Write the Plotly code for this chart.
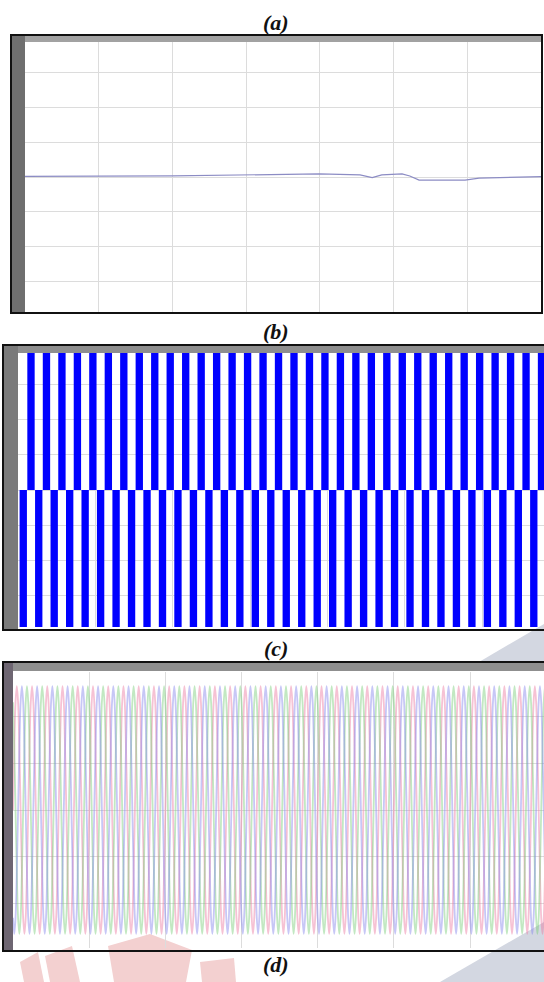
import plotly.graph_objects as go

W, H = 544, 982

# ---------------- data ----------------
# (a) slowly varying quantity (time in s, value in plot units)
a_time = [0.0, 0.20, 0.399, 0.4545, 0.471, 0.484, 0.5115, 0.522, 0.5346, 0.597, 0.616, 0.6445, 0.70]
a_value = [2, 3, 9, 6, -2, 6, 9, 3, -9, -9, -3, -1, 1]

# (b) bipolar square wave: level of each half-cycle
b_half_period = 0.01
b_first_center = 0.0068
b_pattern = [-400, 400]
b_cycles = 34

# (c) three-phase voltages: one cycle, per-unit
c_cycle_shape = [0.0, 0.5, 0.87, 1.0, 0.87, 0.5, 0.0, -0.5, -0.87, -1.0, -0.87, -0.5]
c_amplitude = 265
c_period = 0.02
c_cycles = 35
c_phase_shift_samples = [0, 4, 8]
c_colors = ["rgba(235,120,160,0.45)", "rgba(120,205,120,0.45)", "rgba(130,130,235,0.45)"]

# ---------------- build series ----------------
b_levels = b_pattern * b_cycles
b_time = [b_first_center + b_half_period * i for i in range(len(b_levels))]

n = len(c_cycle_shape)
c_time = [c_period * k / n for k in range(n * c_cycles + 1)]
c_series = []
for s in c_phase_shift_samples:
    vals = [c_amplitude * c_cycle_shape[(k + s) % n] for k in range(len(c_time))]
    c_series.append(vals)


def px(x):
    return x / W


def py(y):
    return 1 - y / H


fig = go.Figure()

fig.add_trace(go.Scatter(x=a_time, y=a_value, mode="lines",
                         line=dict(color="#8c8cc4", width=1.2),
                         xaxis="x", yaxis="y", hoverinfo="skip"))

fig.add_trace(go.Bar(x=b_time, y=b_levels, width=0.0095,
                     marker=dict(color="#0000ff", line=dict(width=0)),
                     xaxis="x2", yaxis="y2", hoverinfo="skip"))

for vals, col in zip(c_series, c_colors):
    fig.add_trace(go.Scatter(x=c_time, y=vals, mode="lines",
                             line=dict(color=col, width=1.8, shape="spline"),
                             xaxis="x3", yaxis="y3", hoverinfo="skip"))

grid = "#dcdcdc"
common_x = dict(showticklabels=False, showgrid=True, gridcolor=grid, gridwidth=1,
                zeroline=False, ticks="", showline=False, fixedrange=True)
common_y = dict(showticklabels=False, showgrid=True, gridcolor=grid, gridwidth=1,
                zeroline=False, ticks="outside", ticklen=5, tickcolor="#444",
                showline=False, fixedrange=True)

fig.update_layout(
    width=W, height=H,
    margin=dict(l=0, r=0, t=0, b=0),
    paper_bgcolor="white", plot_bgcolor="white",
    showlegend=False, barmode="overlay",
    xaxis=dict(domain=[px(25), px(541)], range=[0, 0.70], dtick=0.1, anchor="y", **common_x),
    yaxis=dict(domain=[py(312), py(42)], range=[-386, 386], dtick=100, anchor="x", **common_y),
    xaxis2=dict(domain=[px(18), 1], range=[0, 0.68], dtick=0.1, anchor="y2", **common_x),
    yaxis2=dict(domain=[py(627), py(353)], range=[-391, 391], dtick=100, anchor="x2", **common_y),
    xaxis3=dict(domain=[px(13), 1], range=[0, 0.697], dtick=0.1, anchor="y3", **common_x),
    yaxis3=dict(domain=[py(948), py(672)], range=[-295, 295], dtick=100, anchor="x3", **common_y),
)

shapes = []


def rect(x0, y0, x1, y1, fill=None, line_color=None, lw=0, layer="above"):
    d = dict(type="rect", xref="paper", yref="paper",
             x0=px(x0), x1=px(x1), y0=py(y1), y1=py(y0), layer=layer,
             line=dict(width=lw, color=line_color or "rgba(0,0,0,0)"))
    if fill:
        d["fillcolor"] = fill
    return d


def poly(points, fill, layer="below", opacity=1.0):
    path = "M " + " L ".join(f"{px(x):.5f},{py(y):.5f}" for x, y in points) + " Z"
    return dict(type="path", xref="paper", yref="paper", path=path,
                fillcolor=fill, line=dict(width=0), layer=layer, opacity=opacity)


# watermark-like background marks
shapes += [
    poly([(479, 662), (544, 624), (544, 662)], "#d3d7e1"),
    poly([(440, 982), (544, 922), (544, 982)], "#d3d7e1"),
    poly([(20, 962), (38, 952), (44, 982), (24, 982)], "#f3d0d0"),
    poly([(45, 956), (72, 946), (80, 982), (50, 982)], "#f3d0d0"),
    poly([(108, 946), (150, 934), (192, 950), (186, 982), (114, 982)], "#f3d0d0"),
    poly([(200, 962), (234, 958), (236, 982), (202, 982)], "#f3d0d0"),
]

# panel (a) frame
shapes += [
    rect(11, 35, 25, 313, fill="#6f6f6f"),
    rect(25, 35, 541, 42, fill="#a2a2a2"),
    rect(11, 35, 542, 313, line_color="#111111", lw=2),
]
# panel (b) frame
shapes += [
    rect(3, 345, 18, 630, fill="#7a7a7a"),
    rect(18, 345, 545, 353, fill="#8e8e8e"),
    rect(3, 345, 546, 630, line_color="#111111", lw=2),
]
# panel (c) frame
shapes += [
    rect(3, 662, 13, 951, fill="#6e6672"),
    rect(13, 662, 545, 671, fill="#8f8f8f"),
    rect(3, 662, 546, 951, line_color="#111111", lw=2),
]
fig.update_layout(shapes=shapes)

labels = [("(a)", 23), ("(b)", 331), ("(c)", 648), ("(d)", 964)]
fig.update_layout(annotations=[
    dict(text=f"<b><i>{t}</i></b>", x=px(276), y=py(yy), xref="paper", yref="paper",
         showarrow=False, xanchor="center", yanchor="middle",
         font=dict(family="Liberation Serif, Times New Roman, serif", size=22, color="#111"))
    for t, yy in labels
])

fig.write_html("out.html", config={"displayModeBar": False},
               post_script="document.body.style.margin='0';document.body.style.overflow='hidden';")
